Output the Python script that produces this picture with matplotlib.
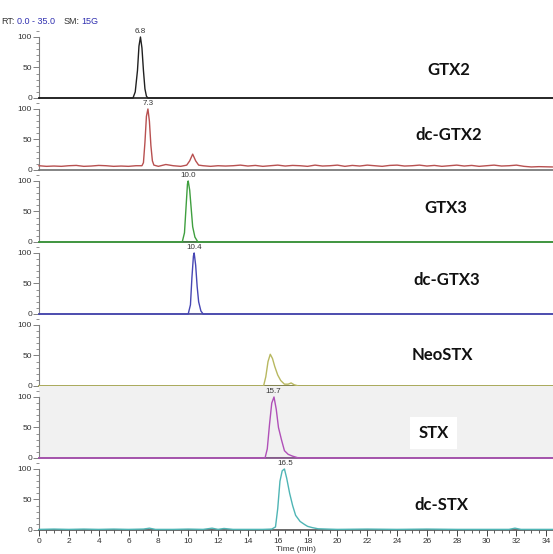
import matplotlib
matplotlib.use("Agg")
import matplotlib.pyplot as plt
from matplotlib.ticker import MultipleLocator

# ---------------- data ----------------
names = ["GTX2", "dc-GTX2", "GTX3", "dc-GTX3", "NeoSTX", "STX", "dc-STX"]
peak_labels = ["6.8", "7.3", "10.0", "10.4", None, "15.7", "16.5"]

t_gtx2 = [0, 6.3, 6.45, 6.6, 6.7, 6.8, 6.9, 7.0, 7.1, 7.2, 7.3, 34.4]
y_gtx2 = [0, 0, 10, 45, 85, 100, 82, 45, 15, 3, 0, 0]

t_dcgtx2 = [0, 0.5, 1.0, 1.5, 2.0, 2.5, 3.0, 3.5, 4.0, 4.5, 5.0, 5.5, 6.0, 6.5, 6.9,
            7.0, 7.1, 7.2, 7.3, 7.4, 7.5, 7.6, 7.7, 8.0, 8.5, 9.0, 9.5, 9.9, 10.1,
            10.3, 10.5, 10.7, 11.0, 11.5, 12.0, 12.5, 13.0, 13.5, 14.0, 14.5, 15.0,
            15.5, 16.0, 16.5, 17.0, 17.5, 18.0, 18.5, 19.0, 19.5, 20.0, 20.5, 21.0,
            21.5, 22.0, 22.5, 23.0, 23.5, 24.0, 24.5, 25.0, 25.5, 26.0, 26.5, 27.0,
            27.5, 28.0, 28.5, 29.0, 29.5, 30.0, 30.5, 31.0, 31.5, 32.0, 32.5, 33.0,
            33.5, 34.4]
y_dcgtx2 = [7, 6, 6.5, 6, 7, 7.5, 6, 6.5, 7.5, 7, 6, 6.5, 6, 7, 7,
            12, 45, 88, 100, 80, 40, 15, 8, 6, 9, 7, 6, 8, 15,
            26, 15, 8, 7, 6, 7, 6.5, 7, 8, 6.5, 7.5, 6,
            7, 8, 6.5, 7.5, 7, 6, 8, 6.5, 7, 8, 6, 7.5,
            6.5, 8, 7, 6, 7.5, 8, 6.5, 7, 8, 6.5, 7.5, 6,
            7, 8, 6.5, 7.5, 6, 7, 8, 6.5, 7, 8, 6, 5,
            5.5, 5]

t_gtx3 = [0, 9.6, 9.75, 9.85, 9.95, 10.0, 10.1, 10.2, 10.3, 10.45, 10.65, 34.4]
y_gtx3 = [0, 0, 15, 55, 95, 100, 85, 55, 25, 8, 0, 0]

t_dcgtx3 = [0, 10.0, 10.15, 10.25, 10.35, 10.4, 10.5, 10.6, 10.7, 10.85, 11.0, 34.4]
y_dcgtx3 = [0, 0, 15, 60, 95, 100, 80, 45, 20, 5, 0, 0]

t_neostx = [0, 15.05, 15.2, 15.35, 15.5, 15.65, 15.8, 16.0, 16.2, 16.45, 16.7, 16.9,
            17.1, 17.4, 34.4]
y_neostx = [0, 0, 15, 40, 52, 45, 32, 18, 9, 3, 3, 5, 2, 0, 0]

t_stx = [0, 15.15, 15.3, 15.45, 15.6, 15.75, 15.9, 16.05, 16.25, 16.45, 16.7, 17.0,
         17.4, 34.4]
y_stx = [0, 0, 15, 55, 90, 100, 80, 50, 30, 12, 6, 3, 0, 0]

t_dcstx = [0, 1, 2, 3, 4, 5, 6, 7, 7.4, 7.8, 9, 10, 11, 11.6, 12, 12.4, 13, 14, 15,
           15.6, 15.85, 16.0, 16.15, 16.3, 16.45, 16.6, 16.8, 17.0, 17.2, 17.5, 17.8,
           18.0, 18.3, 18.7, 19.3, 20, 22, 24, 26, 28, 30, 31.5, 31.9, 32.3, 34.4]
y_dcstx = [1, 1.5, 1, 1.5, 1, 1.5, 1, 1.5, 3, 1, 1, 1.5, 1, 3, 1, 2.5, 1, 1, 1,
           1.5, 5, 35, 80, 97, 100, 85, 60, 40, 24, 14, 9,
           6, 4, 2, 1.5, 1, 1.5, 1, 1.5, 1, 1, 1, 3, 1, 1]

times = [t_gtx2, t_dcgtx2, t_gtx3, t_dcgtx3, t_neostx, t_stx, t_dcstx]
values = [y_gtx2, y_dcgtx2, y_gtx3, y_dcgtx3, y_neostx, y_stx, y_dcstx]

# integration (baseline) ranges under peaks
integ = [None, None, (9.6, 10.65), (10.0, 11.0), (15.05, 17.4), (15.15, 17.4), None]

colors = ["#202020", "#b85050", "#3f9f3f", "#4646b4", "#b8b860", "#b050b8", "#4fb5b5"]
base_colors = ["#202020", "#707070", "#2e6e2e", "#4a4a9a", "#7a7a3a", "#7a4a80", "#505050"]

label_pos = [(27.45, 46), (27.45, 57), (27.25, 56), (27.35, 56), (27.05, 51), (26.45, 41), (26.95, 41)]

# ---------------- layout ----------------
W, H = 553, 554
fig = plt.figure(figsize=(W / 100, H / 100), dpi=100)
x0 = 39
xmax = 34.45
baselines = [98 + 72 * k for k in range(7)]
panel_h = 72

small = dict(family="Liberation Sans", fontsize=5.8, color="#333333")

for k in range(7):
    yb = baselines[k]
    ax = fig.add_axes([x0 / W, 1 - yb / H, 1 - x0 / W, panel_h / H])
    ax.set_xlim(0, xmax)
    ax.set_ylim(0, 118)
    if names[k] == "STX":
        ax.set_facecolor("#f1f1f1")
    else:
        ax.set_facecolor("none")
    for s in ["top", "right"]:
        ax.spines[s].set_visible(False)
    ax.spines["left"].set_bounds(0, 100)
    ax.spines["left"].set_color("#808080")
    ax.spines["left"].set_linewidth(0.8)
    ax.spines["bottom"].set_color(base_colors[k])
    ax.spines["bottom"].set_linewidth(1.2)
    ax.yaxis.set_major_locator(MultipleLocator(50))
    ax.yaxis.set_minor_locator(MultipleLocator(10))
    ax.tick_params(axis="y", which="major", length=4, width=0.7, color="#808080",
                   labelsize=6, labelcolor="#333333", pad=1)
    ax.tick_params(axis="y", which="minor", length=2, width=0.6, color="#808080")
    for lab in ax.get_yticklabels():
        lab.set_family("Liberation Sans")

    if integ[k] is not None:
        ax.plot(list(integ[k]), [0.6, 0.6], color="#c0c0c0", lw=2.2, zorder=2,
                solid_capstyle="butt")
    ax.plot(times[k], values[k], color=colors[k], lw=1.0, zorder=3, clip_on=False)

    if peak_labels[k] is not None:
        pt = float(peak_labels[k])
        ax.text(pt, 104, peak_labels[k], ha="center", va="bottom", **small)

    lx, ly = label_pos[k]
    ax.text(lx, ly, names[k], ha="center", va="center", family="Lato",
            fontweight="bold", fontsize=12, color="#111111",
            bbox=dict(boxstyle="square,pad=0.5", fc="white", ec="none"))

    if k < 6:
        ax.set_xticks([])
    else:
        ax.xaxis.set_major_locator(MultipleLocator(2))
        ax.xaxis.set_minor_locator(MultipleLocator(0.5))
        ax.tick_params(axis="x", which="major", length=4, width=0.7, color="#404040",
                       labelsize=6, labelcolor="#333333", pad=1.5)
        ax.tick_params(axis="x", which="minor", length=2.5, width=0.6, color="#404040")
        for lab in ax.get_xticklabels():
            lab.set_family("Liberation Sans")
        ax.set_xlabel("Time (min)", fontsize=6, family="Liberation Sans",
                      color="#333333", labelpad=1)

# header
hy = 1 - 22 / H
fig.text(1 / W, hy, "RT:", fontsize=6.5, family="Liberation Sans",
         color="#333333", va="center")
fig.text(17 / W, hy, "0.0 - 35.0", fontsize=6.5, family="Liberation Sans",
         color="#3030b0", va="center")
fig.text(64 / W, hy, "SM:", fontsize=6.5, family="Liberation Sans",
         color="#333333", va="center")
fig.text(81 / W, hy, "15G", fontsize=6.5, family="Liberation Sans",
         color="#3030b0", va="center")

fig.savefig("out.png", dpi=100, facecolor="white")
